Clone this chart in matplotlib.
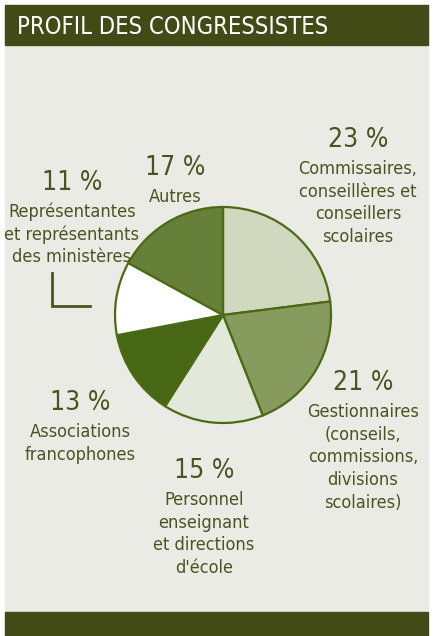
import matplotlib.pyplot as plt
from matplotlib.patches import Rectangle

plt.rcParams['font.family'] = ['DejaVu Sans']
plt.rcParams['font.stretch'] = 'condensed'

# données (sens horaire depuis midi)
percents = [23, 21, 15, 13, 11, 17]
labels = [
    ["Commissaires,", "conseillères et", "conseillers", "scolaires"],
    ["Gestionnaires", "(conseils,", "commissions,", "divisions", "scolaires)"],
    ["Personnel", "enseignant", "et directions", "d'école"],
    ["Associations", "francophones"],
    ["Représentantes", "et représentants", "des ministères"],
    ["Autres"],
]
colors = ['#d0d9bf', '#879b5e', '#e3e9da', '#476715', '#ffffff', '#66803a']
# position des étiquettes (x, ligne de base du pourcentage), en pixels
label_pos = [(358, 147), (363, 390), (204, 478), (80, 410), (72, 190), (175, 175)]

W, H = 433, 636
bg = '#ebebe6'
dark = '#424b16'
txt = '#4b5320'

fig = plt.figure(figsize=(W / 100, H / 100), dpi=100)
fig.patch.set_facecolor('white')
ax = fig.add_axes([0, 0, 1, 1])


def Y(y):
    return H - y


ax.add_patch(Rectangle((5, Y(612)), 423, 612 - 5, color=bg, zorder=0))
ax.add_patch(Rectangle((5, Y(45)), 423, 40, color=dark, zorder=1))
ax.add_patch(Rectangle((5, 0), 423, 24, color=dark, zorder=1))
ax.text(17, Y(27), "PROFIL DES CONGRESSISTES", color='white', fontsize=17,
        va='center', ha='left', zorder=2)

ax.pie(percents, colors=colors, startangle=90, counterclock=False,
       center=(223, Y(315)), radius=108,
       wedgeprops=dict(edgecolor='#4a6a14', linewidth=1.6), frame=True)
ax.set_xlim(0, W)
ax.set_ylim(0, H)
ax.set_aspect('auto')
ax.axis('off')

for p, lines, (x, y) in zip(percents, labels, label_pos):
    ax.text(x, Y(y), f"{p} %", color=txt, fontsize=19, ha='center', va='baseline')
    for i, line in enumerate(lines):
        ax.text(x, Y(y + 27 + i * 22.7), line, color=txt, fontsize=13,
                ha='center', va='baseline')

# petit crochet
ax.plot([52, 52, 90], [Y(273), Y(306), Y(306)], color=txt, lw=2,
        solid_joinstyle='miter')

fig.savefig('out.png', dpi=100)
